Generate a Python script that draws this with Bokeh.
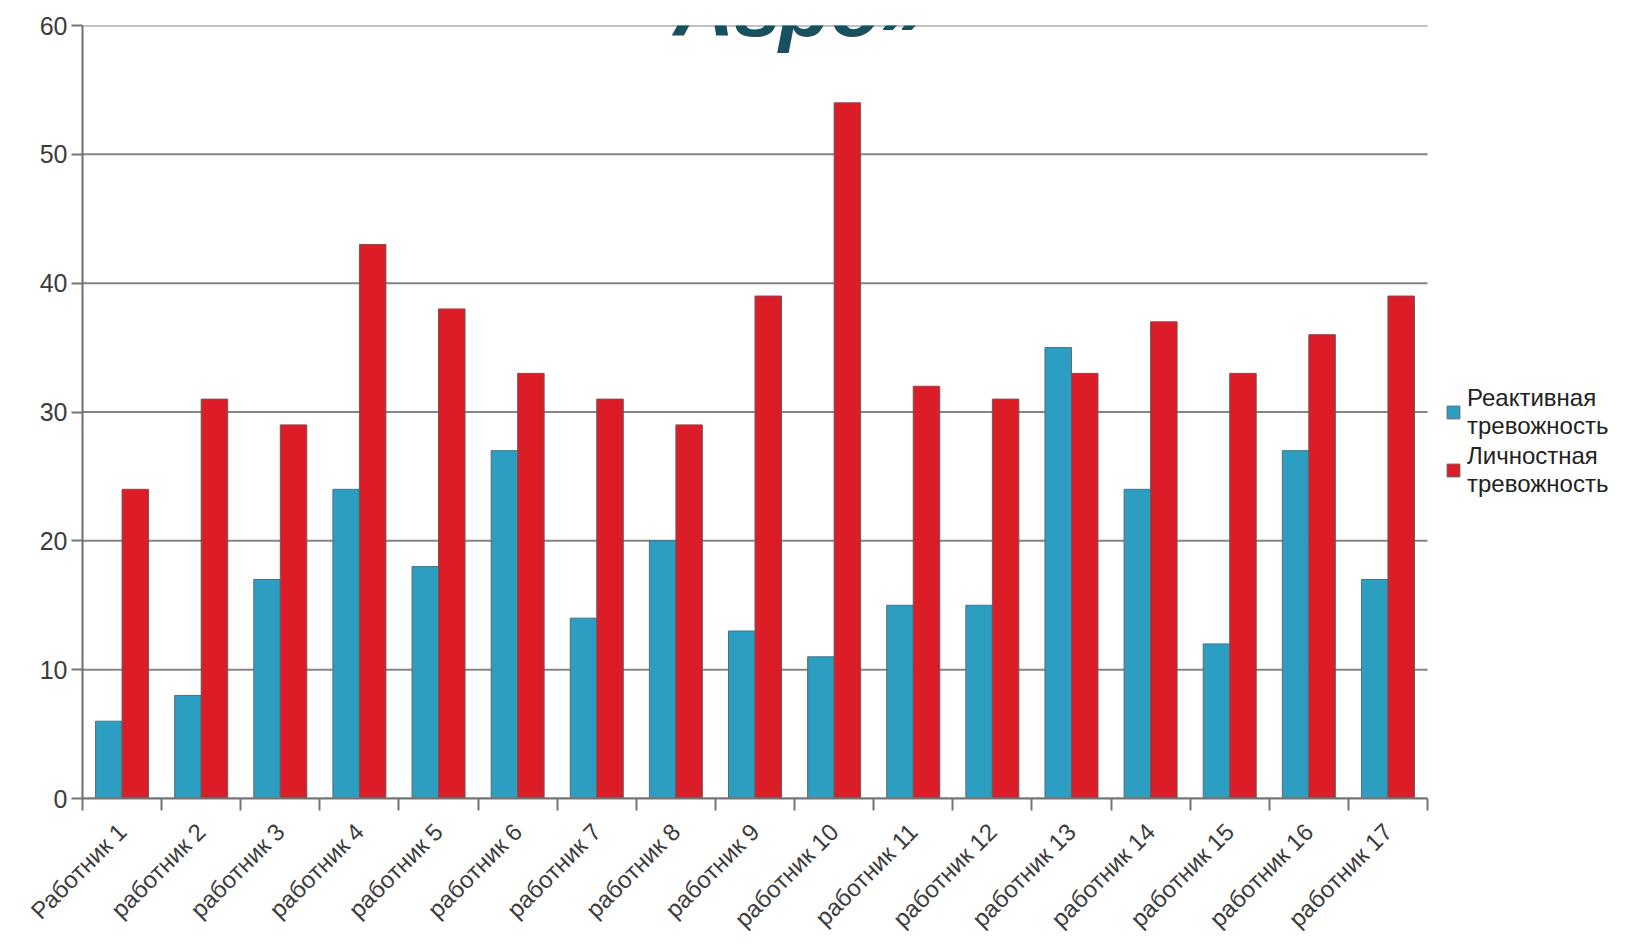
import numpy as np
from bokeh.plotting import figure
from bokeh.models import Range1d, FixedTicker, Legend, LegendItem, Label
from bokeh.embed import file_html
from bokeh.resources import INLINE

# Workers surveyed
workers = ["Работник 1", "работник 2", "работник 3", "работник 4", "работник 5",
           "работник 6", "работник 7", "работник 8", "работник 9", "работник 10",
           "работник 11", "работник 12", "работник 13", "работник 14", "работник 15",
           "работник 16", "работник 17"]

# Anxiety scores per worker
reactive = [6, 8, 17, 24, 18, 27, 14, 20, 13, 11, 15, 15, 35, 24, 12, 27, 17]
personal = [24, 31, 29, 43, 38, 33, 31, 29, 39, 54, 32, 31, 33, 37, 33, 36, 39]

series_names = ["Реактивная\nтревожность", "Личностная\nтревожность"]
y_ticks = [0, 10, 20, 30, 40, 50, 60]
heading = "Агро»"

FONT = "Liberation Sans"
BLUE = "#2b9ec1"
RED = "#dc1c26"
GRID = "#858585"
AXIS = "#747474"
TEXT = "#3c3c3c"

n = len(workers)
centers = np.arange(n) + 0.5
bar_w = 0.335

# The frame runs to the right edge so the legend can sit beside the bars;
# the category axis itself spans 82..1427 px.
W, H = 1628, 944
left, right_end = 82, 1427
x_end = n * (W - left) / (right_end - left)

p = figure(width=W, height=H, output_backend="svg", toolbar_location=None,
           x_range=Range1d(0, x_end), y_range=Range1d(0, 60),
           min_border_left=left, min_border_right=0,
           min_border_top=25, min_border_bottom=146)
p.outline_line_color = None
p.background_fill_color = "white"
p.border_fill_color = "white"

# horizontal value lines over the category span only
p.segment(x0=0, x1=n, y0=y_ticks, y1=y_ticks, line_color=GRID, line_width=2)

r_blue = p.vbar(x=centers - bar_w / 2, top=reactive, width=bar_w, bottom=0,
                fill_color=BLUE, line_color="#5e6a70", line_width=1)
r_red = p.vbar(x=centers + bar_w / 2, top=personal, width=bar_w, bottom=0,
               fill_color=RED, line_color="#6a5a5a", line_width=1)

p.xgrid.grid_line_color = None
p.ygrid.grid_line_color = None

# x axis: names under each pair, tick marks on the category boundaries
xa = p.xaxis[0]
xa.bounds = (0, n)
xa.ticker = FixedTicker(ticks=list(centers), minor_ticks=list(range(n + 1)))
xa.major_label_overrides = {float(c): w for c, w in zip(centers, workers)}
xa.major_label_orientation = np.pi / 4
xa.major_tick_line_color = None
xa.major_tick_out = 0
xa.major_tick_in = 0
xa.minor_tick_line_color = AXIS
xa.minor_tick_line_width = 2
xa.minor_tick_out = 12
xa.minor_tick_in = 0
xa.axis_line_color = AXIS
xa.axis_line_width = 2
xa.major_label_text_font = FONT
xa.major_label_text_font_size = "24px"
xa.major_label_text_color = TEXT
xa.major_label_standoff = 17

ya = p.yaxis[0]
ya.ticker = FixedTicker(ticks=y_ticks)
ya.minor_tick_line_color = None
ya.major_tick_out = 11
ya.major_tick_in = 0
ya.major_tick_line_color = AXIS
ya.major_tick_line_width = 2
ya.axis_line_color = "#6e6e6e"
ya.axis_line_width = 2
ya.major_label_text_font = FONT
ya.major_label_text_font_size = "25px"
ya.major_label_text_color = TEXT
ya.major_label_standoff = 4

legend = Legend(items=[LegendItem(label=series_names[0], renderers=[r_blue]),
                       LegendItem(label=series_names[1], renderers=[r_red])],
                location=(1363, 300), orientation="vertical",
                border_line_color=None, background_fill_alpha=0,
                label_text_font=FONT, label_text_font_size="24px",
                label_text_color="#222222", label_text_line_height=1.15,
                glyph_width=16, glyph_height=16, label_standoff=6,
                spacing=2, padding=0, margin=0)
p.add_layout(legend, "center")

# heading sitting at the very top edge of the page
p.add_layout(Label(x=7.47, y=61.47, text=heading, text_font=FONT,
                   text_font_style="bold italic", text_font_size="84px",
                   text_color="#17505f", text_baseline="alphabetic",
                   text_align="left"))

open("out.html", "w").write(file_html(p, INLINE))
